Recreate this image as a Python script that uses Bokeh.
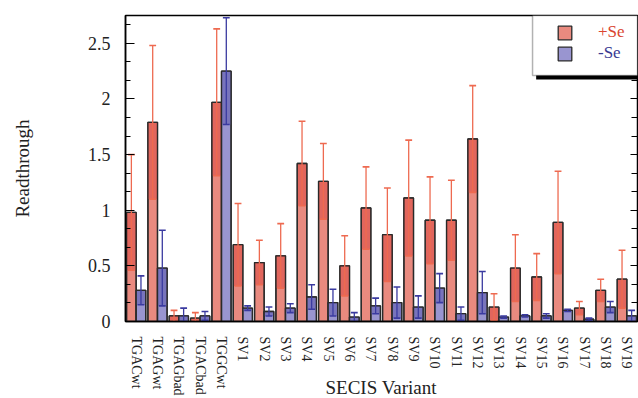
from bokeh.plotting import figure
from bokeh.layouts import column
from bokeh.models import (FactorRange, Range1d, FixedTicker, LinearAxis, Legend, LegendItem,
                          BoxAnnotation, Div, ColumnDataSource)
from bokeh.transform import dodge
from bokeh.embed import file_html
from bokeh.resources import INLINE

# ---------------- data ----------------
variants = ["TGACwt", "TGAGwt", "TGAGbad", "TGACbad", "TGGCwt",
            "SV1", "SV2", "SV3", "SV4", "SV5", "SV6", "SV7", "SV8", "SV9", "SV10",
            "SV11", "SV12", "SV13", "SV14", "SV15", "SV16", "SV17", "SV18", "SV19"]
plus_se = [0.98, 1.79, 0.05, 0.03, 1.97, 0.69, 0.53, 0.59, 1.42, 1.26, 0.50, 1.02,
           0.78, 1.11, 0.91, 0.91, 1.64, 0.13, 0.48, 0.40, 0.89, 0.12, 0.28, 0.38]
plus_se_err = [0.52, 0.69, 0.05, 0.05, 0.66, 0.37, 0.20, 0.29, 0.38, 0.34, 0.27, 0.37,
               0.42, 0.52, 0.39, 0.36, 0.48, 0.12, 0.30, 0.21, 0.46, 0.06, 0.10, 0.26]
minus_se = [0.28, 0.48, 0.05, 0.05, 2.25, 0.12, 0.09, 0.12, 0.22, 0.17, 0.04, 0.14,
            0.17, 0.13, 0.30, 0.07, 0.26, 0.04, 0.05, 0.05, 0.10, 0.02, 0.13, 0.05]
minus_se_err = [0.13, 0.34, 0.07, 0.04, 0.48, 0.02, 0.04, 0.04, 0.11, 0.12, 0.04, 0.07,
                0.14, 0.10, 0.13, 0.06, 0.19, 0.01, 0.01, 0.02, 0.01, 0.01, 0.05, 0.05]
series_labels = ["+Se", "-Se"]
y_ticks = [0, 0.5, 1, 1.5, 2, 2.5]
y_tick_labels = ["0", "0.5", "1", "1.5", "2", "2.5"]
x_title = "SECIS Variant"

FONT = "Liberation Serif"

def make_source(vals, errs):
    return ColumnDataSource(dict(
        variant=variants,
        val=vals,
        lower=[max(0.0, v - e) for v, e in zip(vals, errs)],
        upper=[v + e for v, e in zip(vals, errs)],
    ))

src_plus = make_source(plus_se, plus_se_err)
src_minus = make_source(minus_se, minus_se_err)

p = figure(x_range=FactorRange(*variants), y_range=Range1d(0, 2.75),
           width=638, height=398, output_backend="svg", toolbar_location=None,
           min_border_left=125, min_border_right=1, min_border_top=15, min_border_bottom=77)
p.x_range.range_padding = 0
p.xgrid.visible = False
p.ygrid.visible = False
p.outline_line_color = "black"
p.outline_line_width = 1.5
p.background_fill_color = "white"
p.border_fill_color = "white"

BW = 0.45
styles = [
    (src_plus, -0.225, "#E98A7F", "#DD5A52", "#EE6A50"),
    (src_minus, 0.225, "#9995D0", "#6E69B6", "#3A3AA0"),
]
bar_renderers = []
for src, off, light, dark, ecol in styles:
    xs = dodge("variant", off, range=p.x_range)
    r = p.vbar(x=xs, top="val", bottom=0, width=BW, source=src,
               fill_color=light, line_color="#2a2a2a", line_width=1.3)
    bar_renderers.append(r)
    p.vbar(x=xs, top="val", bottom="lower", width=BW, source=src,
           fill_color=dark, fill_alpha=0.75, line_color=None)
    p.vbar(x=xs, top="val", bottom=0, width=BW, source=src,
           fill_color=None, line_color="#2a2a2a", line_width=1.3)
    p.segment(x0=xs, x1=xs, y0="lower", y1="upper", source=src,
              line_color=ecol, line_width=1.3)
    for col in ("upper", "lower"):
        p.segment(x0=dodge("variant", off - 0.16, range=p.x_range),
                  x1=dodge("variant", off + 0.16, range=p.x_range),
                  y0=col, y1=col, source=src, line_color=ecol, line_width=1.6)

# ---------------- axes ----------------
ticker = FixedTicker(ticks=y_ticks,
                     minor_ticks=[i / 6 for i in range(0, 17)])
yax = p.yaxis[0]
yax.ticker = ticker
yax.major_label_overrides = dict(zip(y_ticks, y_tick_labels))
yax.major_tick_in = 9
yax.major_tick_out = 0
yax.minor_tick_in = 5
yax.minor_tick_out = 0
yax.major_label_standoff = 15
yax.major_label_text_font = FONT
yax.major_label_text_font_size = "18px"
yax.major_label_text_color = "#222222"
yax.axis_line_width = 1.5
yax.axis_label = "Readthrough"
yax.axis_label_text_font = FONT
yax.axis_label_text_font_style = "normal"
yax.axis_label_text_font_size = "19px"
yax.axis_label_text_color = "#222222"
yax.axis_label_standoff = 52

xax = p.xaxis[0]
xax.major_tick_line_color = None
xax.minor_tick_line_color = None
xax.major_label_orientation = "vertical"
xax.major_label_standoff = 9
xax.major_label_text_font = FONT
xax.major_label_text_font_size = "14px"
xax.major_label_text_color = "#222222"
xax.axis_line_width = 1.5

rax = LinearAxis(ticker=ticker, major_label_standoff=0,
                 major_label_overrides={t: "" for t in y_ticks},
                 major_tick_in=7, major_tick_out=0, minor_tick_in=6, minor_tick_out=0,
                 axis_line_color=None)
p.add_layout(rax, "right")

# ---------------- legend ----------------
p.add_layout(BoxAnnotation(left=19.25, bottom=2.175, fill_color="black", fill_alpha=1,
                           line_color=None))
p.add_layout(BoxAnnotation(left=19.08, bottom=2.21, fill_color="white", fill_alpha=1,
                           line_color="black", line_width=1.5))
text_colors = ["#DA4530", "#3A3A92"]
locs = [(431, 279), (431, 258)]
for r, lab, tc, loc in zip(bar_renderers, series_labels, text_colors, locs):
    leg = Legend(items=[LegendItem(label=lab, renderers=[r])], location=loc,
                 border_line_color=None, background_fill_alpha=0, padding=0, margin=0,
                 spacing=0, glyph_width=17, glyph_height=17, label_standoff=25,
                 label_height=17, label_text_font=FONT, label_text_font_size="17px",
                 label_text_color=tc)
    p.add_layout(leg)

# x-axis title, overlapping the bottom border beside the rotated tick labels
title_div = Div(text=x_title, width=200, height=18, margin=(-19, 0, 0, 281),
                styles={"text-align": "center", "font-family": FONT,
                        "font-size": "19px", "color": "#222222", "line-height": "18px"})

layout = column(p, title_div)
open("out.html", "w").write(file_html(layout, INLINE))
